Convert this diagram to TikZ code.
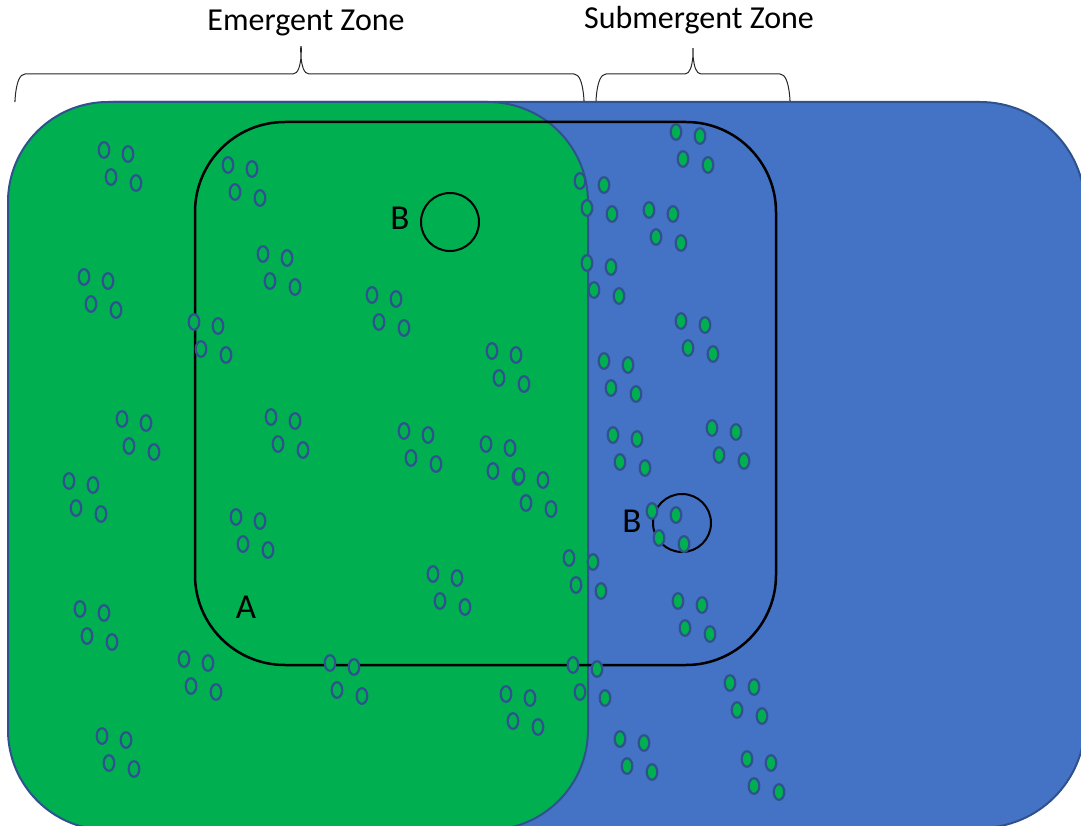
\documentclass[tikz,border=0pt]{standalone}
\usepackage{fontspec}
\setmainfont{Carlito}
\definecolor{zngreen}{HTML}{00B050}
\definecolor{znblue}{HTML}{4472C4}
\definecolor{znedge}{HTML}{2F528F}
\usetikzlibrary{positioning}

\begin{document}
\begin{tikzpicture}[x=1pt,y=-1pt,
  seed/.style={draw=znedge,fill=zngreen,line width=2.2pt},
  ring/.style={draw=black,line width=2pt},
  brace/.style={draw=black!85,line width=1pt},
  head/.style={font=\fontsize{32}{38}\selectfont,anchor=base},
  lbl/.style={font=\fontsize{35}{41}\selectfont}
]
  \useasboundingbox (0,0) rectangle (1081,826);
  % Zone headings
  \node[head] (em) at (306,31) {Emergent Zone};
  \node[head] (sub) at (699,29) {Submergent Zone};
  % Braces
  \draw[brace] (15,100) to[out=-90,in=180] (25,74) -- (293,74)
    to[out=0,in=90] (301,48) to[out=90,in=180] (309,74) -- (574,74)
    to[out=0,in=-90] (584,100);
  \draw[brace] (596,100) to[out=-90,in=180] (606,74) -- (685,74)
    to[out=0,in=90] (693,50) to[out=90,in=180] (701,74) -- (780,74)
    to[out=0,in=-90] (790,100);
  \begin{scope}
    \clip (0,0) rectangle (1081,826);
    % Submergent area
    \draw[draw=znedge,fill=znblue,line width=2pt,rounded corners=105pt]
      (8,102) rectangle (1085,828);
    % Emergent area
    \draw[draw=znedge,fill=zngreen,line width=2pt,rounded corners=100pt]
      (8,102) rectangle (588,830);
    % Region A
    \draw[draw=black,line width=2.5pt,rounded corners=90pt]
      (195,122) rectangle (776,665);
    % Regions B
    \draw[ring] (450,222) circle[radius=29pt];
    \draw[ring] (682,523) circle[radius=29pt];
    % Plant clusters
    \foreach \cx/\cy in {104/150,228/165,84/277,263/254,194/322,372/295,
        492/351,122/419,271/417,404/431,486/444,69/481,236/517,433/574,
        80/609,184/659,330/663,506/694,102/736,580/181,676/132,649/210,
        587/263,681/321,604/361,613/435,712/428,519/476,652/511,569/558,
        678/601,573/665,730/683,620/739,747/759}
      \foreach \dx/\dy in {0/0,24/4,7/27,32/33}
        \draw[seed] (\cx+\dx,\cy+\dy) ellipse[x radius=5.3pt,y radius=7.8pt];
  \end{scope}
  % Labels
  \node[lbl] (lb1) at (400,218) {B};
  \node[lbl] (lb2) at (632,521) {B};
  \node[lbl] (la) at (246,607) {A};
\end{tikzpicture}
\end{document}
